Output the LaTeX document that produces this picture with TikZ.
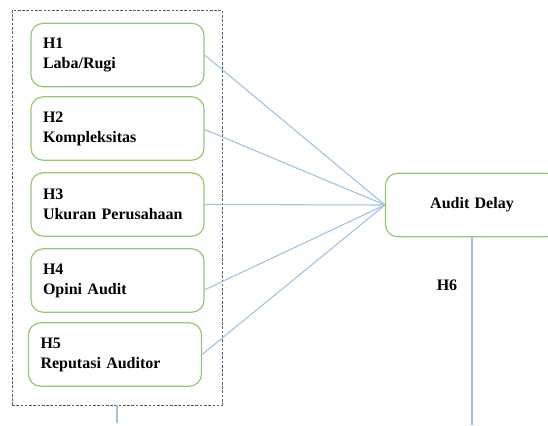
\documentclass[tikz,border=0pt]{standalone}
\usepackage{fontspec}
\setmainfont{Liberation Serif}
\begin{document}
\begin{tikzpicture}[x=0.75pt,y=-0.75pt,
  hbox/.style={draw=boxgreen, line width=0.9pt, rounded corners=9pt, fill=white,
    minimum width=129.75pt, minimum height=47.5pt, text width=111.75pt, inner xsep=9pt,
    align=left, font=\bfseries\fontsize{12}{15}\selectfont},
  link/.style={draw=linkblue, line width=0.8pt},
  frame/.style={draw=framecol, line width=0.7pt, dash pattern=on 2pt off 1.2pt}]
\definecolor{boxgreen}{RGB}{150,200,110}
\definecolor{linkblue}{RGB}{155,194,230}
\definecolor{framecol}{RGB}{80,100,130}
\useasboundingbox (0,0) rectangle (548,425);
\node[frame, minimum width=157.5pt, minimum height=296.25pt, inner sep=0pt] (frm) at (117,207.5) {};
\node[hbox] (h1) at (117.5,55) {H1\\Laba/Rugi};
\node[hbox] (h2) at (117.5,128.5) {H2\\Kompleksitas};
\node[hbox] (h3) at (117.5,204.5) {H3\\Ukuran Perusahaan};
\node[hbox] (h4) at (117.5,280.5) {H4\\Opini Audit};
\node[hbox] (h5) at (115,354.5) {H5\\Reputasi Auditor};
\node[hbox, align=center] (ad) at (472,205) {Audit Delay};
\coordinate (tgt) at (ad.west);
\draw[link] (h1.east) -- (tgt);
\draw[link] ([yshift=-0.75pt]h2.east) -- (tgt);
\draw[link] (h3.east) -- (tgt);
\draw[link] ([yshift=-7pt]h4.east) -- (tgt);
\draw[link] (h5.east) -- (tgt);
\coordinate (bot) at (472,425);
\draw[link, line width=1.2pt] (ad.south) -- (bot);
\coordinate (fb) at (117,423);
\draw[link, line width=1.2pt] (frm.south) -- (fb);
\node[font=\bfseries\fontsize{12}{15}\selectfont] (h6) at (447,285) {H6};
\end{tikzpicture}
\end{document}
